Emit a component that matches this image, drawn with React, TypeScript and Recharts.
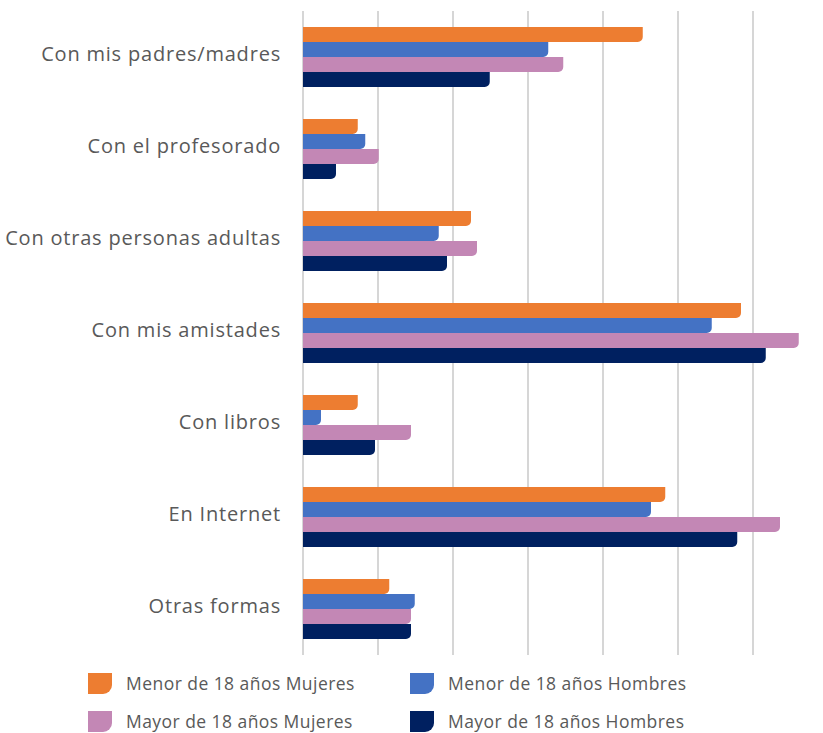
import { Bar, BarChart, CartesianGrid, XAxis, YAxis } from "recharts"

const categories = [
  "Con mis padres/madres",
  "Con el profesorado",
  "Con otras personas adultas",
  "Con mis amistades",
  "Con libros",
  "En Internet",
  "Otras formas",
]

const menorMujeres = [45.3, 7.3, 22.4, 58.4, 7.3, 48.3, 11.5]
const menorHombres = [32.7, 8.3, 18.1, 54.5, 2.4, 46.4, 14.9]
const mayorMujeres = [34.7, 10.1, 23.2, 66.1, 14.4, 63.6, 14.4]
const mayorHombres = [24.9, 4.4, 19.2, 61.7, 9.6, 57.9, 14.4]

const xTicks = [0, 10, 20, 30, 40, 50, 60, 70]

const series = [
  { key: "menorMujeres", name: "Menor de 18 años Mujeres", color: "#ED7D31" },
  { key: "menorHombres", name: "Menor de 18 años Hombres", color: "#4472C4" },
  { key: "mayorMujeres", name: "Mayor de 18 años Mujeres", color: "#C387B5" },
  { key: "mayorHombres", name: "Mayor de 18 años Hombres", color: "#002060" },
]

const data = categories.map((name, i) => ({
  name,
  menorMujeres: menorMujeres[i],
  menorHombres: menorHombres[i],
  mayorMujeres: mayorMujeres[i],
  mayorHombres: mayorHombres[i],
}))

const FONT = "'Open Sans', sans-serif"
const TEXT = "#595959"

function LegendItem({ name, color }: { name: string; color: string }) {
  return (
    <div style={{ display: "flex", alignItems: "center", height: 38 }}>
      <div
        style={{
          width: 24,
          height: 21,
          background: color,
          borderBottomRightRadius: 9,
          marginRight: 14,
        }}
      />
      <span style={{ fontSize: 17.5, letterSpacing: 0.45, color: TEXT, fontFamily: FONT }}>{name}</span>
    </div>
  )
}

export default function App() {
  return (
    <div
      style={{
        position: "absolute",
        left: 0,
        top: 0,
        width: 823,
        height: 733,
        background: "#fff",
        overflow: "hidden",
      }}
    >
      <BarChart
        width={823}
        height={733}
        data={data}
        layout="vertical"
        margin={{ top: 11, right: -5, bottom: 78, left: 0 }}
        barCategoryGap={16}
        barGap={0}
      >
        <CartesianGrid horizontal={false} stroke="#c9c9c9" strokeWidth={1.5} />
        <XAxis type="number" domain={[0, 70]} ticks={xTicks} hide />
        <YAxis
          type="category"
          dataKey="name"
          width={303}
          axisLine={false}
          tickLine={false}
          tickSize={0}
          tickMargin={22}
          tick={{ fill: TEXT, fontSize: 20, letterSpacing: 0.8, fontFamily: FONT, dy: -3 }}
        />
        {series.map((s) => (
          <Bar
            key={s.key}
            dataKey={s.key}
            name={s.name}
            fill={s.color}
            radius={[0, 0, 5, 0]}
            isAnimationActive={false}
          />
        ))}
      </BarChart>
      <div style={{ position: "absolute", left: 88, top: 664 }}>
        <LegendItem name={series[0].name} color={series[0].color} />
        <LegendItem name={series[2].name} color={series[2].color} />
      </div>
      <div style={{ position: "absolute", left: 410, top: 664 }}>
        <LegendItem name={series[1].name} color={series[1].color} />
        <LegendItem name={series[3].name} color={series[3].color} />
      </div>
    </div>
  )
}
